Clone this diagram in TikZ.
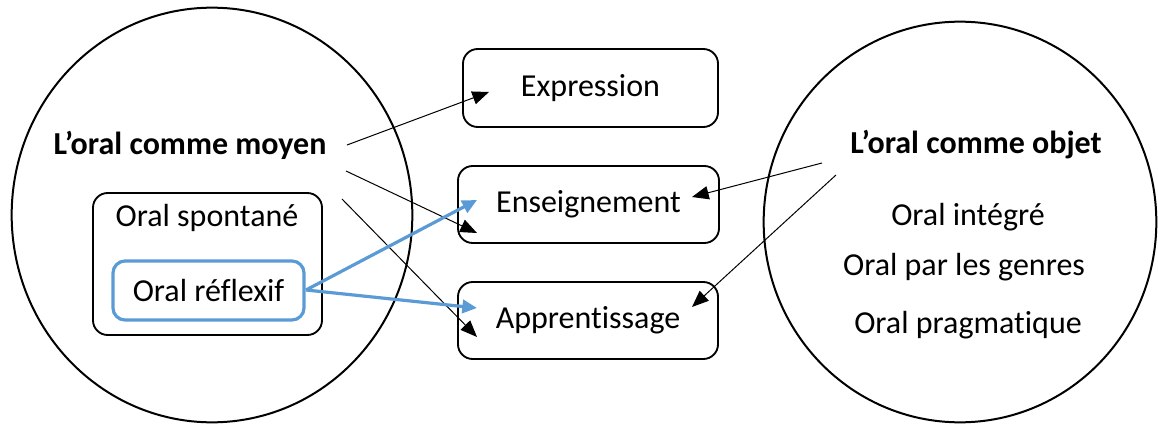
\documentclass[tikz,border=0pt]{standalone}
\usepackage{fontspec}
\setmainfont[Ligatures=NoCommon]{Carlito}
\usetikzlibrary{arrows.meta,shapes.geometric}
\definecolor{blu}{RGB}{91,155,213}
\begin{document}
\begin{tikzpicture}[x=0.75pt,y=-0.75pt,
  every node/.style={font=\fontsize{24}{28}\selectfont, inner sep=0pt},
  circ/.style={draw, ellipse, line width=1.5pt},
  box/.style={draw, rounded corners=11pt, line width=1.4pt},
  bluebox/.style={draw=blu, rounded corners=9pt, line width=2.4pt},
  arr/.style={line width=0.75pt, -{Triangle[length=12.5pt,width=10pt]}},
  barr/.style={draw=blu, line width=2.4pt, -{Triangle[length=11pt,width=10pt]}, blu},
  bold/.style={font=\fontsize{24}{28}\selectfont\bfseries}]
\useasboundingbox (0,0) rectangle (1158,424);
% circles
\node[circ, minimum width=300.5pt, minimum height=311pt] (lc) at (212,215) {};
\node[circ, minimum width=294.5pt, minimum height=300.5pt] (rc) at (960,222) {};
% left contents
\node[bold] (moyen) at (190,145) {L’oral comme moyen};
\node[box, minimum width=171.75pt, minimum height=106.5pt] (spont) at (207.5,264) {};
\node (spontt) at (207,218) {Oral spontané};
\node[bluebox, minimum width=143.25pt, minimum height=44.25pt] (refl) at (208.5,290.5) {Oral réflexif};
% right contents
\node[bold] (objet) at (976,145) {L’oral comme objet};
\node (integ) at (968,217) {Oral intégré};
\node (genres) at (964,267) {Oral par les genres};
\node (prag) at (968,325) {Oral pragmatique};
% middle boxes
\node[box, minimum width=191.25pt, minimum height=58.5pt] (expr) at (590.5,88) {Expression};
\node[box, minimum width=195.75pt, minimum height=57.75pt] (ens) at (588.5,204.5) {Enseignement};
\node[box, minimum width=195pt, minimum height=57.75pt] (app) at (588,320.5) {Apprentissage};
% arrow end points
\coordinate (m1) at (347,145);
\coordinate (m2) at (346,171);
\coordinate (m3) at (342,199);
\coordinate (o1) at (822,163);
\coordinate (o2) at (836,175);
\coordinate (t1) at (489,92);
\coordinate (t2) at (477,233);
\coordinate (t3) at (477,337);
\coordinate (t4) at (692,197);
\coordinate (t5) at (692,307);
\coordinate (r0) at (306,290);
\coordinate (b1) at (477,200);
\coordinate (b2) at (477,308);
% connectors
\draw[arr] (m1) -- (t1);
\draw[arr] (m2) -- (t2);
\draw[arr] (m3) -- (t3);
\draw[arr] (o1) -- (t4);
\draw[arr] (o2) -- (t5);
\draw[barr] (r0) -- (b1);
\draw[barr] (r0) -- (b2);
\end{tikzpicture}
\end{document}
